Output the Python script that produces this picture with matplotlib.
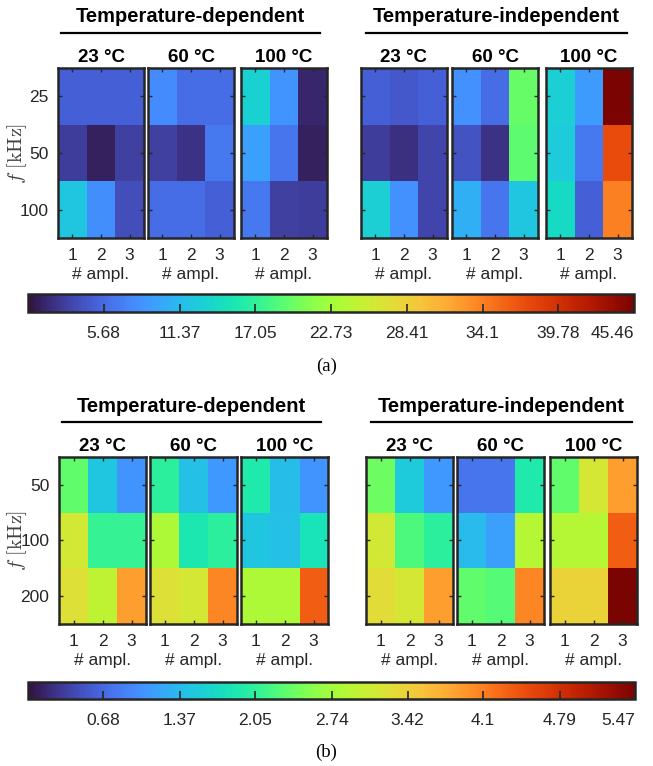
import numpy as np
import matplotlib
matplotlib.use("Agg")
import matplotlib.pyplot as plt
from matplotlib.lines import Line2D

plt.rcParams["font.family"] = ["Liberation Sans", "DejaVu Sans"]
plt.rcParams["mathtext.fontset"] = "cm"

W, H = 653, 766

groups = ["Temperature-dependent", "Temperature-independent"]
temps = ["23 °C", "60 °C", "100 °C"]
ampl = ["1", "2", "3"]

# (a) frequencies and values (rows = f, cols = # ampl.)
freq_a = ["25", "50", "100"]
vmax_a = 45.46
cbar_ticks_a = ["5.68", "11.37", "17.05", "22.73", "28.41", "34.1", "39.78", "45.46"]
dep_a = [
    [[5.0, 5.0, 5.0], [2.7, 1.0, 3.0], [12.3, 8.2, 3.9]],
    [[8.0, 5.9, 5.9], [3.0, 2.0, 6.6], [5.9, 5.9, 5.0]],
    [[13.2, 8.6, 1.4], [9.5, 6.4, 0.9], [6.6, 3.0, 2.7]],
]
ind_a = [
    [[5.0, 4.5, 5.0], [2.7, 1.8, 3.2], [13.0, 8.4, 3.2]],
    [[8.4, 5.9, 19.6], [4.1, 2.0, 19.2], [10.5, 6.4, 12.3]],
    [[13.0, 9.1, 45.46], [12.7, 6.6, 37.3], [14.1, 5.0, 34.0]],
]

# (b)
freq_b = ["50", "100", "200"]
vmax_b = 5.47
cbar_ticks_b = ["0.68", "1.37", "2.05", "2.74", "3.42", "4.1", "4.79", "5.47"]
dep_b = [
    [[2.35, 1.48, 1.04], [3.12, 2.08, 2.08], [3.23, 2.95, 3.88]],
    [[2.02, 1.42, 1.07], [2.84, 1.86, 2.02], [3.23, 3.15, 4.05]],
    [[1.91, 1.39, 1.04], [1.48, 1.42, 1.80], [2.84, 2.84, 4.35]],
]
ind_b = [
    [[2.40, 1.53, 1.07], [3.12, 2.24, 2.02], [3.28, 3.15, 3.88]],
    [[0.78, 0.78, 1.91], [1.37, 1.15, 2.90], [2.35, 2.27, 4.05]],
    [[2.35, 3.15, 3.88], [2.90, 2.90, 4.35], [3.39, 3.39, 5.47]],
]

fig = plt.figure(figsize=(W / 100, H / 100), dpi=100)
dark = "#262626"


def box(x, y, w, h):
    # pixel box (top-left origin) -> figure fraction
    return [x / W, 1 - (y + h) / H, w / W, h / H]


def panel(xs, ytop, aw, ah, freqs, data, vmax, cb, cbticks, letter, letter_y):
    titles_y = ytop - 51
    ul_y = ytop - 35
    allmaps = data[0] + data[1]
    for i, (x, vals) in enumerate(zip(xs, allmaps)):
        ax = fig.add_axes(box(x, ytop, aw, ah))
        ax.imshow(np.array(vals), cmap="turbo", vmin=0, vmax=vmax,
                  aspect="auto", interpolation="nearest")
        ax.set_xticks(range(3))
        ax.set_xticklabels(ampl)
        ax.set_yticks(range(3))
        if i == 0:
            ax.set_yticklabels(freqs)
        else:
            ax.set_yticklabels([])
        ax.tick_params(direction="in", length=3, width=1, top=True, right=True,
                       labelsize=12.5, colors=dark, pad=7)
        ax.set_xlabel("# ampl.", fontsize=12.5, color=dark, labelpad=3)
        for s in ax.spines.values():
            s.set_linewidth(1.8)
            s.set_color(dark)
        ax.set_title(temps[i % 3], fontsize=13.5, fontweight="bold", pad=4)
    fig.text(17 / W, 1 - (ytop + ah / 2) / H, r"$f\ [\mathrm{kHz}]$",
             rotation=90, ha="center", va="center", fontsize=14.5,
             color="#404040")
    # group headers with underline
    for g, (x0, x1) in enumerate([(xs[0] + 3, xs[2] + aw - 7),
                                  (xs[3] + 5, xs[5] + aw - 5)]):
        fig.text((x0 + x1) / 2 / W, 1 - titles_y / H, groups[g], ha="center",
                 va="center", fontsize=14.5, fontweight="bold")
        fig.add_artist(Line2D([x0 / W, x1 / W], [1 - ul_y / H] * 2,
                              color="black", lw=1.6))
    # colorbar
    cax = fig.add_axes(box(*cb))
    sm = plt.cm.ScalarMappable(cmap="turbo", norm=plt.Normalize(0, vmax))
    cbar = fig.colorbar(sm, cax=cax, orientation="horizontal")
    tv = [float(t) for t in cbticks]
    cbar.set_ticks(tv)
    cbar.set_ticklabels(cbticks)
    cbar.ax.tick_params(direction="in", length=6, width=1.2, labelsize=12.5,
                        colors=dark, pad=10)
    cbar.ax.get_xticklabels()[-1].set_horizontalalignment("right")
    cbar.ax.get_xticklabels()[-1].set_x(tv[-1])
    cbar.outline.set_linewidth(1.8)
    cbar.outline.set_edgecolor(dark)
    fig.text(0.5, 1 - letter_y / H, letter, ha="center", va="center",
             fontsize=13.5, family="Liberation Serif")


panel([58, 148, 241, 361, 452, 546], 68, 86, 170, freq_a, [dep_a, ind_a],
      vmax_a, (28, 294, 606, 18), cbar_ticks_a, "(a)", 366)
panel([59, 150, 241, 366, 457, 550], 457, 87, 167, freq_b, [dep_b, ind_b],
      vmax_b, (28, 682, 607, 17), cbar_ticks_b, "(b)", 752)

fig.savefig("out.png", dpi=100)
